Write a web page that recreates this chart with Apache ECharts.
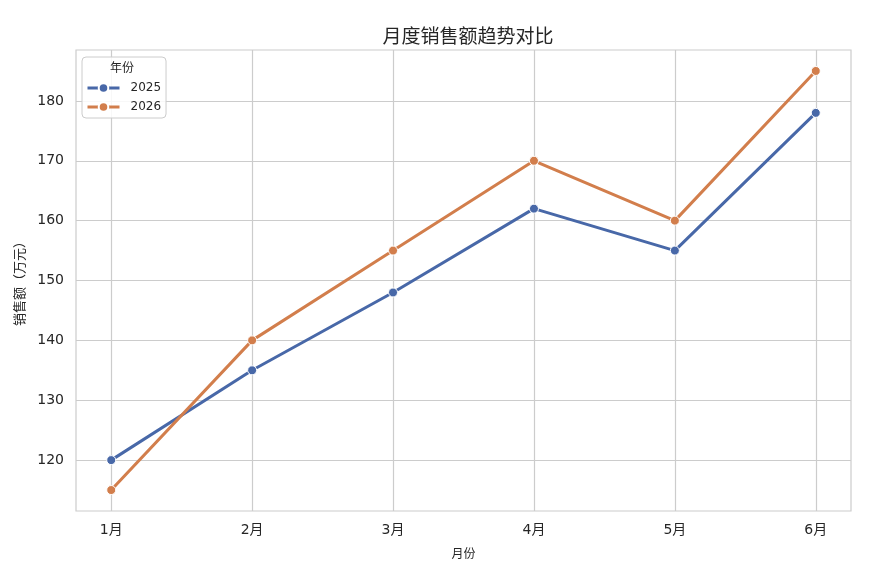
<!DOCTYPE html>
<html>
<head>
<meta charset="utf-8">
<script src="https://cdn.jsdelivr.net/npm/echarts@6/dist/echarts.min.js"></script>
<style>
  html, body { margin: 0; padding: 0; background: #fff; }
  #main { width: 883px; height: 574px; }
</style>
</head>
<body>
<div id="main"></div>
<script>
// data
var months = ['1月', '2月', '3月', '4月', '5月', '6月'];
var years = ['2025', '2026'];
var sales2025 = [120, 135, 148, 162, 155, 178];
var sales2026 = [115, 140, 155, 170, 160, 185];
var yTicks = [120, 130, 140, 150, 160, 170, 180];

var colors = ['#4868a8', '#d27e4c'];
var font = '"DejaVu Sans", "Noto Sans CJK SC", sans-serif';
var cjk = '"Noto Sans CJK SC", "DejaVu Sans", sans-serif';

function toPoints(arr) {
    return arr.map(function (v, i) { return [i, v]; });
}

var myChart = echarts.init(document.getElementById('main'));

var option = {
    backgroundColor: '#fff',
    animation: false,
    color: colors,
    title: {
        text: '月度销售额趋势对比',
        left: 463,
        textAlign: 'center',
        top: 21,
        textStyle: { fontFamily: cjk, fontSize: 19, fontWeight: 'normal', color: '#262626' }
    },
    grid: {
        left: 76, right: 32, top: 50, bottom: 63,
        show: true,
        borderColor: '#cccccc',
        borderWidth: 1.2,
        backgroundColor: 'transparent'
    },
    legend: {
        data: years,
        orient: 'vertical',
        left: 82,
        top: 57,
        padding: [25, 5, 5, 4],
        itemWidth: 32,
        itemHeight: 12,
        itemGap: 7,
        lineStyle: { width: 3 },
        borderColor: '#cccccc',
        borderWidth: 1,
        borderRadius: 4,
        backgroundColor: 'rgba(255,255,255,0.85)',
        textStyle: { fontFamily: font, fontSize: 12, color: '#262626', padding: [0, 0, 0, 6] }
    },
    graphic: [{
        type: 'text',
        left: 110,
        top: 61,
        z: 100,
        style: { text: '年份', font: '12px ' + cjk, fill: '#262626' }
    }],
    xAxis: {
        type: 'value',
        min: -0.25,
        max: 5.25,
        name: '月份',
        nameLocation: 'middle',
        nameGap: 36,
        nameTextStyle: { fontFamily: cjk, fontSize: 12, color: '#262626' },
        axisLine: { show: false },
        axisTick: { show: false, customValues: [0, 1, 2, 3, 4, 5] },
        axisLabel: {
            customValues: [0, 1, 2, 3, 4, 5],
            formatter: function (v) { return months[Math.round(v)]; },
            fontFamily: font, fontSize: 14, color: '#262626', margin: 12
        },
        splitLine: { show: true, lineStyle: { color: '#cccccc', width: 1.2 } }
    },
    yAxis: {
        type: 'value',
        min: 111.5,
        max: 188.5,
        name: '销售额（万元）',
        nameLocation: 'middle',
        nameGap: 50,
        nameTextStyle: { fontFamily: cjk, fontSize: 13, color: '#262626' },
        axisLine: { show: false },
        axisTick: { show: false, customValues: yTicks },
        axisLabel: {
            customValues: yTicks,
            fontFamily: font, fontSize: 14, color: '#262626', margin: 12
        },
        splitLine: { show: true, lineStyle: { color: '#cccccc', width: 1.2 } }
    },
    series: [
        {
            name: years[0],
            type: 'line',
            data: toPoints(sales2025),
            symbol: 'circle',
            symbolSize: 9,
            lineStyle: { width: 3 },
            itemStyle: { color: colors[0], borderColor: '#fff', borderWidth: 1 }
        },
        {
            name: years[1],
            type: 'line',
            data: toPoints(sales2026),
            symbol: 'circle',
            symbolSize: 9,
            lineStyle: { width: 3 },
            itemStyle: { color: colors[1], borderColor: '#fff', borderWidth: 1 }
        }
    ]
};

myChart.setOption(option);
</script>
</body>
</html>
